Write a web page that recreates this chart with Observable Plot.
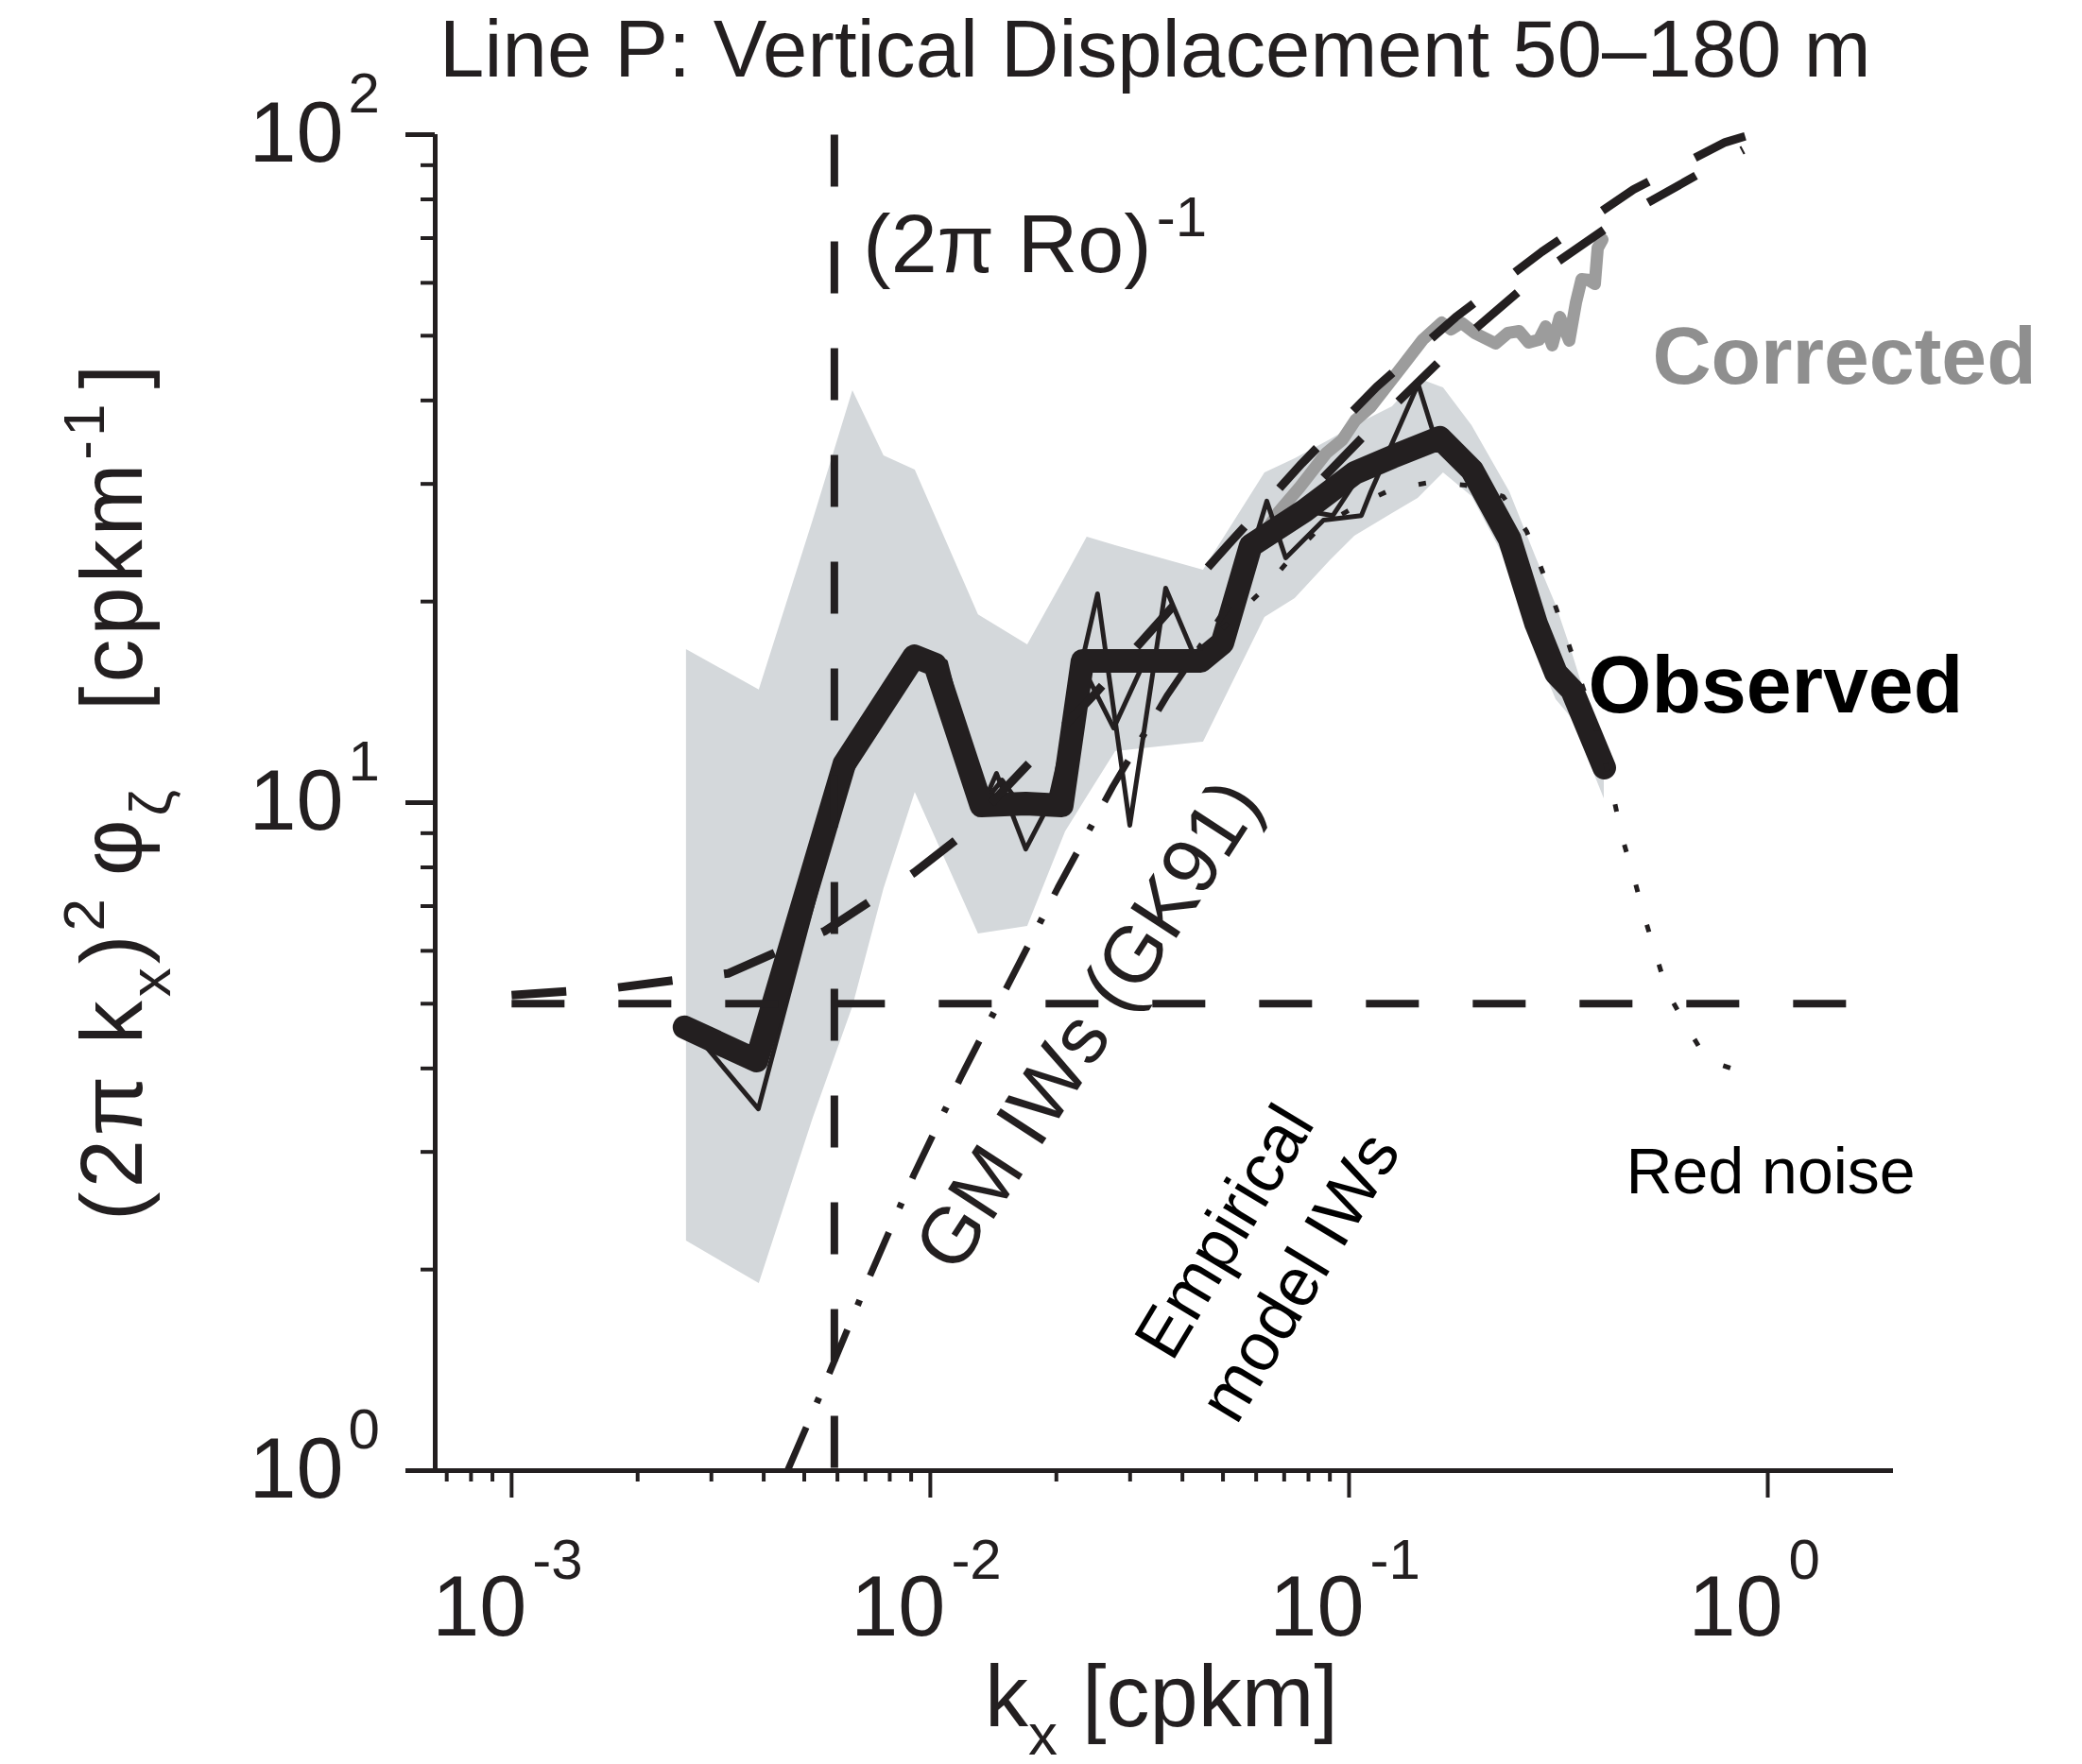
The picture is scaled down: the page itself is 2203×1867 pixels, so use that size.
<!DOCTYPE html>
<html><head><meta charset="utf-8">
<script src="https://cdn.jsdelivr.net/npm/d3@7"></script>
<script src="https://cdn.jsdelivr.net/npm/@observablehq/plot@0.6"></script>
<style>
body{margin:0;background:#fff;width:2203px;height:1867px;overflow:hidden;font-family:"Liberation Sans",Arial,sans-serif;}
#title{position:absolute;left:0;top:9px;width:2203px;height:91px;font-size:85px;line-height:85px;color:#231f20;white-space:nowrap;}
#title span{position:absolute;left:465px;top:0;letter-spacing:0.2px;}
#chart{position:absolute;left:0;top:100px;}
</style></head><body>
<div id="title"><span>Line P: Vertical Displacement 50–180 m</span></div>
<div id="chart"></div>
<script>
// ---------- data ----------
const obsK = [0.002588, 0.003845, 0.006232, 0.009153, 0.01026, 0.01324, 0.0169, 0.0206, 0.02309, 0.0442, 0.04983, 0.05824, 0.07832, 0.1032, 0.127, 0.1647, 0.1966, 0.2419, 0.2799, 0.3122, 0.3409, 0.4069];
const obsThick = [4.61, 4.11, 11.43, 16.56, 16.09, 9.90, 9.97, 9.90, 16.30, 16.30, 17.34, 24.25, 27.36, 31.16, 32.94, 35.16, 31.47, 24.81, 18.51, 15.62, 14.74, 11.28];

const thinAK = [0.002588, 0.003884, 0.006232, 0.008825, 0.01059, 0.01338, 0.01439, 0.0169, 0.01925, 0.02508, 0.02995, 0.03648, 0.04331, 0.04983, 0.06361, 0.07058, 0.0869, 0.107, 0.1127, 0.1462, 0.1622, 0.1966, 0.2419, 0.2799, 0.3122, 0.3409, 0.4069];
const thinA = [4.71, 3.48, 10.64, 16.25, 15.62, 9.97, 11.06, 8.52, 9.97, 20.54, 9.25, 20.95, 16.25, 17.06, 28.27, 23.25, 26.48, 26.9, 29.2, 42.32, 34.37, 31.47, 24.81, 18.51, 15.62, 14.74, 11.28];

const thinBK = [0.002588, 0.003845, 0.006232, 0.009153, 0.01087, 0.01324, 0.01484, 0.0169, 0.02081, 0.02309, 0.02741, 0.03322, 0.0442, 0.04983, 0.05443, 0.05824, 0.07832, 0.0915, 0.1032, 0.127, 0.1647, 0.1966, 0.2419, 0.2799, 0.3122, 0.3409, 0.4069];
const thinB = [4.53, 4.16, 11.28, 16.89, 16.25, 9.90, 10.81, 9.65, 9.65, 15.99, 12.93, 16.79, 15.99, 17.34, 22.5, 24.0, 27.36, 26.9, 30.16, 32.94, 34.93, 31.47, 24.81, 18.51, 15.62, 14.74, 11.28];

const bandK = [0.002616, 0.003903, 0.005251, 0.006531, 0.007752, 0.009203, 0.01303, 0.01708, 0.02103, 0.02369, 0.0277, 0.04491, 0.06296, 0.07435, 0.09013, 0.1032, 0.127, 0.1462, 0.1681, 0.1966, 0.2419, 0.2799, 0.3122, 0.3409, 0.4069];
const bandHi = [16.95, 14.74, 26.48, 41.37, 33.04, 31.47, 19.11, 17.23, 21.78, 24.97, 24.25, 22.28, 31.16, 32.72, 34.93, 36.68, 39.14, 43.16, 41.77, 36.68, 29.20, 23.25, 19.75, 16.79, 11.73];
const bandLo = [2.207, 1.905, 3.371, 4.95, 7.434, 10.36, 6.36, 6.525, 9.04, 10.20, 11.92, 12.32, 18.93, 20.21, 23.02, 25.05, 27.09, 28.54, 31.16, 28.73, 22.50, 16.79, 14.26, 13.36, 10.13];

const corrK = [0.05736, 0.06771, 0.07631, 0.08826, 0.09643, 0.1037, 0.1127, 0.1212, 0.1352, 0.15, 0.1664, 0.1753, 0.1856, 0.1996, 0.2238, 0.2394, 0.2548, 0.2685, 0.2843, 0.2948, 0.3057, 0.3187, 0.3357, 0.3481, 0.3592, 0.3725, 0.3863, 0.3925, 0.4027];
const corr = [23.25, 27.18, 29.68, 33.37, 34.93, 37.4, 39.14, 41.5, 45.33, 49.33, 52.3, 51.1, 52.3, 50.47, 48.69, 50.47, 50.79, 48.85, 49.33, 51.62, 48.38, 53.33, 49.17, 56.0, 60.75, 60.6, 59.76, 67.65, 69.66];

const empK = [0.001, 0.001762, 0.003287, 0.005616, 0.009153, 0.01157, 0.02483, 0.03322, 0.05167, 0.07711, 0.1163, 0.1799, 0.2887, 0.4781, 0.7914, 0.892];
const empUpper = [5.15, 5.28, 5.55, 6.43, 7.86, 8.81, 14.59, 17.92, 24.40, 32.19, 41.9, 53.33, 66.77, 82.8, 97.4, 99.6];
const emp2K = [0.0869, 0.1163, 0.1781, 0.2799, 0.4538, 0.7629, 0.8736];
const empLower = [30.66, 37.04, 48.07, 61.33, 75.56, 90.7, 94.9];

const floorK = [0.001, 1.64];
const floorV = [5, 5];
const roK = 0.0059;

const gmK = [0.004561, 0.005469, 0.007061, 0.009153, 0.01187, 0.02017, 0.02727, 0.03686, 0.05167];
const gm = [1.0, 1.302, 1.912, 2.781, 3.901, 7.459, 10.57, 14.5, 19.75];

const rnK = [0.04983, 0.06361, 0.07358, 0.08555, 0.1042, 0.127, 0.1563, 0.1896, 0.2333, 0.2657, 0.2872, 0.3105, 0.3339, 0.3573, 0.3843, 0.4198, 0.4491, 0.4781, 0.5061, 0.5387, 0.5764, 0.6428, 0.7172, 0.8966];
const rn = [18.21, 21.08, 23.48, 25.88, 27.81, 29.49, 30.16, 29.87, 28.73, 25.46, 22.5, 19.75, 17.34, 15.22, 13.32, 10.8, 8.866, 7.76, 6.785, 5.959, 5.196, 4.607, 4.111, 3.93];

const xMajor = [0.001, 0.01, 0.1, 1];
const xMinor = [7e-4, 8e-4, 9e-4, 0.002, 0.003, 0.004, 0.005, 0.006, 0.007, 0.008, 0.009, 0.02, 0.03, 0.04, 0.05, 0.06, 0.07, 0.08, 0.09];
const yMajor = [1, 10, 100];
const yMinor = [2, 3, 4, 5, 6, 7, 8, 9, 20, 30, 40, 50, 60, 70, 80, 90];
const xDomain = [6.57e-4, 1.996];
const yDomain = [1, 100];

// ---------- build ----------
const ink = "#231f20";
const rows = (ks, vs) => ks.map((k, i) => ({k, v: vs[i]}));
const band = bandK.map((k, i) => ({k, lo: bandLo[i], hi: bandHi[i]}));

const plot = Plot.plot({
  width: 2203, height: 1767,
  marginLeft: 460, marginRight: 200, marginTop: 42, marginBottom: 311,
  x: {type: "log", domain: xDomain, label: null},
  y: {type: "log", domain: yDomain, label: null},
  style: {fontFamily: "'Liberation Sans', Arial, sans-serif", color: ink, background: "white", overflow: "visible"},
  marks: [
    Plot.areaY(band, {x: "k", y1: "lo", y2: "hi", fill: "#d4d8db"}),
    Plot.line(rows(corrK, corr), {x: "k", y: "v", stroke: "#9c9c9c", strokeWidth: 13}),
    Plot.line(rows(thinAK, thinA), {x: "k", y: "v", stroke: ink, strokeWidth: 5}),
    Plot.line(rows(thinBK, thinB), {x: "k", y: "v", stroke: ink, strokeWidth: 5}),
    Plot.line(rows(obsK, obsThick), {x: "k", y: "v", stroke: ink, strokeWidth: 25}),
    Plot.line(rows(floorK, floorV), {x: "k", y: "v", stroke: ink, strokeWidth: 8, strokeDasharray: "56,57", strokeLinecap: "butt"}),
    Plot.line([{k: roK, v: 100}, {k: roK, v: 1}], {x: "k", y: "v", stroke: ink, strokeWidth: 8, strokeDasharray: "55,58", strokeLinecap: "butt"}),
    Plot.line(rows(empK, empUpper), {x: "k", y: "v", stroke: ink, strokeWidth: 9, strokeDasharray: "58,55", strokeLinecap: "butt"}),
    Plot.line(rows(emp2K, empLower), {x: "k", y: "v", stroke: ink, strokeWidth: 9, strokeDasharray: "58,55", strokeLinecap: "butt"}),
    Plot.line(rows(gmK, gm), {x: "k", y: "v", stroke: ink, strokeWidth: 7, strokeDasharray: "50,28,6,28", strokeLinecap: "butt"}),
    Plot.line(rows(rnK, rn), {x: "k", y: "v", stroke: ink, strokeWidth: 5, strokeDasharray: "8,36", strokeLinecap: "butt"}),
    // axes
    Plot.ruleY([yDomain[0]], {stroke: ink, strokeWidth: 5}),
    Plot.ruleX([xDomain[0]], {stroke: ink, strokeWidth: 5}),
    Plot.axisX(xMajor, {anchor: "bottom", tickSize: 29, tickFormat: () => "", stroke: ink, strokeWidth: 4, label: null}),
    Plot.axisX(xMinor, {anchor: "bottom", tickSize: 12, tickFormat: () => "", stroke: ink, strokeWidth: 4, label: null}),
    Plot.axisY(yMajor, {anchor: "left", tickSize: 31, tickFormat: () => "", stroke: ink, strokeWidth: 5, label: null}),
    Plot.axisY(yMinor, {anchor: "left", tickSize: 15, tickFormat: () => "", stroke: ink, strokeWidth: 4, label: null}),
    // tick labels
    Plot.text(xMajor, {x: d => d, frameAnchor: "bottom", text: () => "10", dx: 16, dy: 174, textAnchor: "end", lineAnchor: "bottom", fontSize: 90, fill: ink}),
    Plot.text(xMajor, {x: d => d, frameAnchor: "bottom", text: d => String(Math.round(Math.log10(d))), dx: 22, dy: 114, textAnchor: "start", lineAnchor: "bottom", fontSize: 60, fill: ink}),
    Plot.text(yMajor, {y: d => d, frameAnchor: "left", text: () => "10", dx: -97, textAnchor: "end", lineAnchor: "middle", fontSize: 90, fill: ink}),
    Plot.text(yMajor, {y: d => d, frameAnchor: "left", text: d => String(Math.round(Math.log10(d))), dx: -92, dy: -24, textAnchor: "start", lineAnchor: "bottom", fontSize: 60, fill: ink}),
    // annotations
    Plot.text([{k: 0.006913, v: 62.2}], {x: "k", y: "v", text: () => "(2π Ro)", textAnchor: "start", lineAnchor: "bottom", fontSize: 88, fill: ink}),
    Plot.text([{k: 0.0347, v: 62.2}], {x: "k", y: "v", text: () => "-1", dy: -38, textAnchor: "start", lineAnchor: "bottom", fontSize: 60, fill: ink}),
    Plot.text([{k: 0.5303, v: 42.46}], {x: "k", y: "v", text: () => "Corrected", textAnchor: "start", lineAnchor: "bottom", fontSize: 86, fontWeight: "bold", fill: "#8f8f8f"}),
    Plot.text([{k: 0.3725, v: 13.63}], {x: "k", y: "v", text: () => "Observed", textAnchor: "start", lineAnchor: "bottom", fontSize: 86, fontWeight: "bold", fill: "#000"}),
    Plot.text([{k: 0.4585, v: 2.597}], {x: "k", y: "v", text: () => "Red noise", textAnchor: "start", lineAnchor: "bottom", fontSize: 68, fill: "#000"}),
    Plot.text([{k: 0.02394, v: 4.637}], {x: "k", y: "v", text: () => "GM IWs (GK91)", rotate: -57, textAnchor: "middle", lineAnchor: "middle", fontSize: 84, fill: ink}),
    Plot.text([{k: 0.0604, v: 2.129}], {x: "k", y: "v", text: () => "Empirical\nmodel IWs", rotate: -59, textAnchor: "middle", lineAnchor: "middle", lineHeight: 1.29, fontSize: 72, fill: "#000"})
  ]
});
document.getElementById("chart").appendChild(plot);

// axis titles with sub/superscripts
const svg = d3.select(plot);
const xl = svg.append("text").attr("x", 1042).attr("y", 1727).attr("font-size", 92).attr("fill", ink).attr("text-anchor", "start");
xl.append("tspan").text("k");
xl.append("tspan").attr("font-size", 62).attr("dy", 30).text("x");
xl.append("tspan").attr("font-size", 92).attr("dy", -30).attr("dx", 26).text("[cpkm]");

const yl = svg.append("text").attr("transform", "translate(150,1192) rotate(-90)").attr("font-size", 92).attr("fill", ink)
  .attr("text-anchor", "start").attr("letter-spacing", 4);
yl.append("tspan").text("(2π k");
yl.append("tspan").attr("font-size", 62).attr("dy", 30).text("x");
yl.append("tspan").attr("font-size", 92).attr("dy", -30).text(")");
yl.append("tspan").attr("font-size", 62).attr("dy", -40).text("2");
yl.append("tspan").attr("font-size", 92).attr("dy", 40).attr("dx", 20).text("φ");
yl.append("tspan").attr("font-size", 62).attr("dy", 30).text("ζ");
yl.append("tspan").attr("font-size", 92).attr("dy", -30).attr("dx", 80).text("[cpkm");
yl.append("tspan").attr("font-size", 62).attr("dy", -40).text("-1");
yl.append("tspan").attr("font-size", 92).attr("dy", 40).attr("dx", 12).text("]");
</script>
</body></html>
